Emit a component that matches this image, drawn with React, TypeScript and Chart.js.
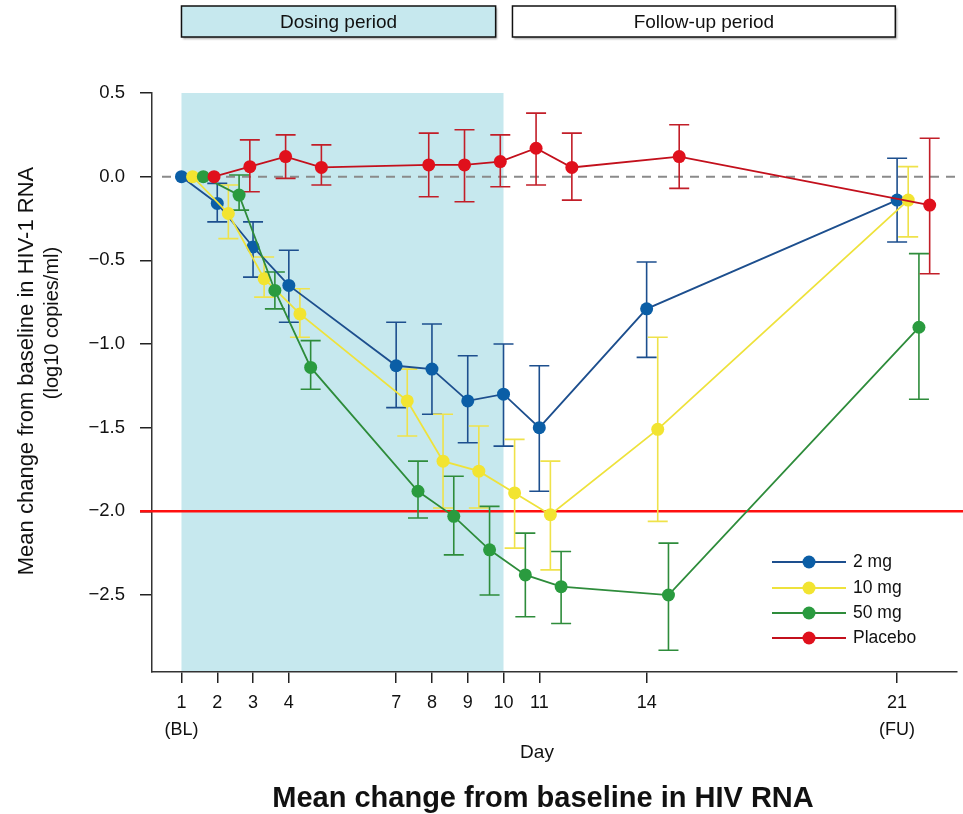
import React, { useEffect, useRef } from "react";
import { Chart, registerables } from "chart.js";

Chart.register(...registerables);

// ---------------- data ----------------
const DAYS = [1, 2, 3, 4, 7, 8, 9, 10, 11, 14, 21];
const X_TICKS = [1, 2, 3, 4, 7, 8, 9, 10, 11, 14, 21];
const X_TICK_SUB: Record<number, string> = { 1: "(BL)", 21: "(FU)" };
const Y_TICKS = [0.5, 0, -0.5, -1, -1.5, -2, -2.5];

const SERIES_LABELS = ["2 mg", "10 mg", "50 mg", "Placebo"];

const MEAN_2MG = [0, -0.16, -0.42, -0.65, -1.13, -1.15, -1.34, -1.3, -1.5, -0.79, -0.14];
const HIGH_2MG = [null, -0.04, -0.27, -0.44, -0.87, -0.88, -1.07, -1.0, -1.13, -0.51, 0.11];
const LOW_2MG = [null, -0.27, -0.6, -0.87, -1.38, -1.42, -1.59, -1.61, -1.88, -1.08, -0.39];

const MEAN_10MG = [0, -0.22, -0.61, -0.82, -1.34, -1.7, -1.76, -1.89, -2.02, -1.51, -0.14];
const HIGH_10MG = [null, -0.05, -0.48, -0.67, -1.15, -1.42, -1.49, -1.57, -1.7, -0.96, 0.06];
const LOW_10MG = [null, -0.37, -0.72, -0.96, -1.55, -1.98, -1.98, -2.22, -2.35, -2.06, -0.36];

const MEAN_50MG = [0, -0.11, -0.68, -1.14, -1.88, -2.03, -2.23, -2.38, -2.45, -2.5, -0.9];
const HIGH_50MG = [null, 0.01, -0.57, -0.98, -1.7, -1.79, -1.97, -2.13, -2.24, -2.19, -0.46];
const LOW_50MG = [null, -0.2, -0.79, -1.27, -2.04, -2.26, -2.5, -2.63, -2.67, -2.83, -1.33];

const MEAN_PLACEBO = [0, 0.06, 0.12, 0.055, 0.07, 0.07, 0.09, 0.17, 0.055, 0.12, -0.17];
const HIGH_PLACEBO = [null, 0.22, 0.25, 0.19, 0.26, 0.28, 0.25, 0.38, 0.26, 0.31, 0.23];
const LOW_PLACEBO = [null, -0.09, -0.01, -0.05, -0.12, -0.15, -0.06, -0.05, -0.14, -0.07, -0.58];

const THRESHOLD = -2.0;
const ZERO_REF = 0;
const DOSING_SHADE = [1, 10];
const PERIOD_LABELS = ["Dosing period", "Follow-up period"];
const PERIOD_START = [1, 10.25];
const PERIOD_END = [9.78, 20.95];

const Y_TITLE = ["Mean change from baseline in HIV-1 RNA", "(log10 copies/ml)"];
const X_TITLE = "Day";
const MAIN_TITLE = "Mean change from baseline in HIV RNA";

// ---------------- styles ----------------
const FONT = '"Liberation Sans", Arial, Helvetica, sans-serif';
const SHADE = "#c6e8ee";
const STYLES = [
  { line: "#1d4f8e", point: "#0b5ea6", err: "#1d4f8e", dodge: 0 },
  { line: "#eee23c", point: "#f2e431", err: "#efe24a", dodge: 0.31 },
  { line: "#2e8c3b", point: "#2a9b3f", err: "#2e8c3b", dodge: 0.61 },
  { line: "#c3101c", point: "#e0101c", err: "#c21e28", dodge: 0.91 },
];

const MEANS = [MEAN_2MG, MEAN_10MG, MEAN_50MG, MEAN_PLACEBO];
const HIGHS = [HIGH_2MG, HIGH_10MG, HIGH_50MG, HIGH_PLACEBO];
const LOWS = [LOW_2MG, LOW_10MG, LOW_50MG, LOW_PLACEBO];

const fmtY = (v: number) => {
  if (Math.abs(v) < 1e-9) return "0.0";
  return (v < 0 ? "\u2212" : "") + Math.abs(v).toFixed(1);
};

const backgroundPlugin = {
  id: "bgDecor",
  beforeDraw(chart: any) {
    const { ctx, chartArea, scales } = chart;
    const x = scales.x;
    ctx.save();
    // dosing shade
    const x0 = x.getPixelForValue(DOSING_SHADE[0]);
    const x1 = x.getPixelForValue(DOSING_SHADE[1]);
    ctx.fillStyle = SHADE;
    ctx.fillRect(x0, chartArea.top, x1 - x0, chartArea.bottom - chartArea.top);

    // period banners
    for (let i = 0; i < PERIOD_LABELS.length; i++) {
      const bx0 = x.getPixelForValue(PERIOD_START[i]);
      const bx1 = x.getPixelForValue(PERIOD_END[i]);
      const by0 = 6;
      const bh = 31;
      ctx.save();
      ctx.shadowColor = "rgba(0,0,0,0.35)";
      ctx.shadowBlur = 2;
      ctx.shadowOffsetX = 1.5;
      ctx.shadowOffsetY = 1.5;
      ctx.fillStyle = i === 0 ? SHADE : "#ffffff";
      ctx.fillRect(bx0, by0, bx1 - bx0, bh);
      ctx.restore();
      ctx.strokeStyle = "#111";
      ctx.lineWidth = 1.5;
      ctx.strokeRect(bx0, by0, bx1 - bx0, bh);
      ctx.fillStyle = "#111";
      ctx.font = `19px ${FONT}`;
      ctx.textAlign = "center";
      ctx.textBaseline = "middle";
      ctx.fillText(PERIOD_LABELS[i], (bx0 + bx1) / 2, by0 + bh / 2 + 1);
    }
    ctx.restore();
  },
  beforeDatasetsDraw(chart: any) {
    const { ctx, chartArea, scales } = chart;
    const x = scales.x;
    const y = scales.y;
    ctx.save();
    // zero reference dashed line
    const yz = y.getPixelForValue(ZERO_REF);
    ctx.strokeStyle = "#8a8a8a";
    ctx.lineWidth = 2;
    ctx.setLineDash([9, 7]);
    ctx.beginPath();
    ctx.moveTo(chartArea.left + 10, yz);
    ctx.lineTo(chartArea.right, yz);
    ctx.stroke();
    ctx.setLineDash([]);

    // threshold line
    const yt = y.getPixelForValue(THRESHOLD);
    ctx.strokeStyle = "#ff1010";
    ctx.lineWidth = 2.5;
    ctx.beginPath();
    ctx.moveTo(chartArea.left - 12, yt);
    ctx.lineTo(chart.width, yt);
    ctx.stroke();

    // error bars
    chart.data.datasets.forEach((ds: any) => {
      const lo = ds.errLow as (number | null)[];
      const hi = ds.errHigh as (number | null)[];
      ctx.strokeStyle = ds.errColor;
      ctx.lineWidth = 1.6;
      const cap = 10;
      for (let i = 0; i < DAYS.length; i++) {
        if (lo[i] == null || hi[i] == null) continue;
        const px = x.getPixelForValue(DAYS[i] + ds.dodge);
        const pl = y.getPixelForValue(lo[i] as number);
        const ph = y.getPixelForValue(hi[i] as number);
        ctx.beginPath();
        ctx.moveTo(px, ph);
        ctx.lineTo(px, pl);
        ctx.moveTo(px - cap, ph);
        ctx.lineTo(px + cap, ph);
        ctx.moveTo(px - cap, pl);
        ctx.lineTo(px + cap, pl);
        ctx.stroke();
      }
    });
    ctx.restore();
  },
  afterDraw(chart: any) {
    const { ctx } = chart;
    ctx.save();
    ctx.fillStyle = "#111";
    ctx.textAlign = "center";
    ctx.textBaseline = "middle";
    // y title (two lines, rotated)
    ctx.save();
    ctx.font = `22px ${FONT}`;
    ctx.translate(27, 371);
    ctx.rotate(-Math.PI / 2);
    ctx.fillText(Y_TITLE[0], 0, 0);
    ctx.restore();
    ctx.save();
    ctx.font = `20px ${FONT}`;
    ctx.translate(52, 323);
    ctx.rotate(-Math.PI / 2);
    ctx.fillText(Y_TITLE[1], 0, 0);
    ctx.restore();

    // x title
    ctx.font = `19px ${FONT}`;
    ctx.fillText(X_TITLE, 537, 753);

    // main title
    ctx.font = `bold 29px ${FONT}`;
    ctx.fillText(MAIN_TITLE, 543, 799);

    // legend
    const lx0 = 772;
    const lx1 = 846;
    const mx = 809;
    const tx = 853;
    const rows = [562, 588, 613, 638];
    chart.data.datasets.forEach((ds: any, i: number) => {
      const ry = rows[i];
      ctx.strokeStyle = ds.borderColor;
      ctx.lineWidth = 2;
      ctx.beginPath();
      ctx.moveTo(lx0, ry);
      ctx.lineTo(lx1, ry);
      ctx.stroke();
      ctx.fillStyle = ds.pointBackgroundColor;
      ctx.beginPath();
      ctx.arc(mx, ry, 6.5, 0, Math.PI * 2);
      ctx.fill();
      ctx.fillStyle = "#111";
      ctx.font = `17.5px ${FONT}`;
      ctx.textAlign = "left";
      ctx.fillText(ds.label, tx, ry);
    });
    ctx.restore();
  },
};

export default function App() {
  const ref = useRef<HTMLCanvasElement | null>(null);

  useEffect(() => {
    if (!ref.current) return;
    const datasets = SERIES_LABELS.map((label, si) => ({
      label,
      data: DAYS.map((d, i) => ({ x: d + STYLES[si].dodge, y: MEANS[si][i] })),
      borderColor: STYLES[si].line,
      backgroundColor: STYLES[si].point,
      pointBackgroundColor: STYLES[si].point,
      pointBorderColor: STYLES[si].point,
      pointBorderWidth: 0,
      pointRadius: 6.5,
      borderWidth: 1.8,
      tension: 0,
      order: SERIES_LABELS.length - si,
      errLow: LOWS[si],
      errHigh: HIGHS[si],
      errColor: STYLES[si].err,
      dodge: STYLES[si].dodge,
    }));

    const chart = new Chart(ref.current, {
      type: "line",
      data: { datasets } as any,
      options: {
        animation: false,
        responsive: false,
        devicePixelRatio: 1,
        layout: { padding: { left: 0, top: 93, right: 0, bottom: 0 } },
        plugins: {
          legend: { display: false },
          tooltip: { enabled: false },
          title: { display: false },
        },
        scales: {
          x: {
            type: "linear",
            min: 0.176,
            max: 22.66,
            afterBuildTicks: (scale: any) => {
              scale.ticks = X_TICKS.map((v) => ({ value: v }));
            },
            afterFit: (scale: any) => {
              scale.height = 142;
            },
            grid: {
              drawOnChartArea: false,
              drawTicks: true,
              tickLength: 11,
              color: "#222",
              lineWidth: 1.5,
            },
            border: { display: true, color: "#333", width: 1.5 },
            ticks: {
              autoSkip: false,
              maxRotation: 0,
              padding: 7,
              color: "#111",
              font: { family: FONT, size: 18, lineHeight: "27px" } as any,
              callback: (v: any) => {
                const n = Number(v);
                return X_TICK_SUB[n] ? [String(n), X_TICK_SUB[n]] : String(n);
              },
            },
          },
          y: {
            type: "linear",
            min: -2.96,
            max: 0.5,
            afterBuildTicks: (scale: any) => {
              scale.ticks = Y_TICKS.map((v) => ({ value: v }));
            },
            afterFit: (scale: any) => {
              scale.width = 152;
            },
            grid: {
              drawOnChartArea: false,
              drawTicks: true,
              tickLength: 12,
              color: "#222",
              lineWidth: 1.5,
            },
            border: { display: true, color: "#333", width: 1.5 },
            ticks: {
              autoSkip: false,
              padding: 15,
              color: "#111",
              font: { family: FONT, size: 18.5 },
              callback: (v: any) => fmtY(Number(v)),
            },
          },
        },
      },
      plugins: [backgroundPlugin],
    } as any);

    return () => chart.destroy();
  }, []);

  return (
    <div style={{ position: "fixed", left: 0, top: 0, width: 963, height: 814, background: "#fff" }}>
      <canvas ref={ref} width={963} height={814} style={{ width: 963, height: 814, display: "block" }} />
    </div>
  );
}
